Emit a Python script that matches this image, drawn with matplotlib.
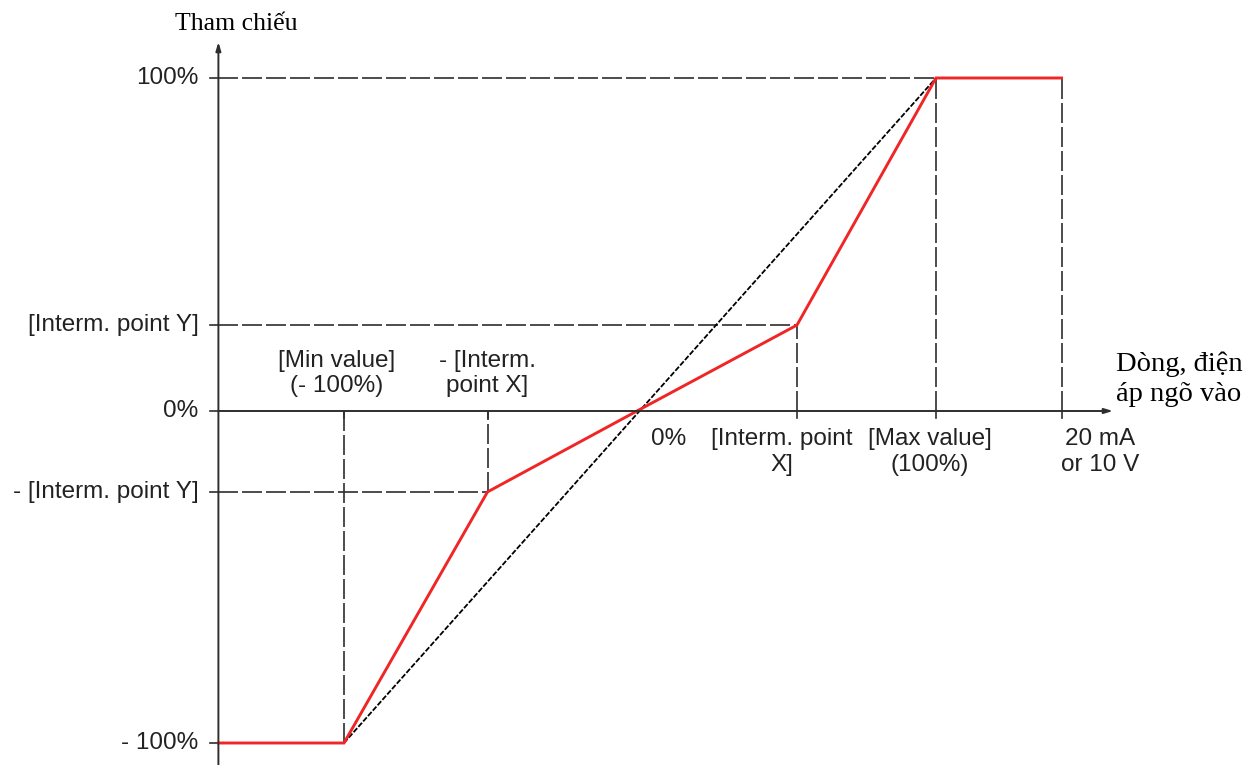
import matplotlib
matplotlib.use("Agg")
import matplotlib.pyplot as plt

# --- data (percent units) ---
x_min_val = -98.0        # [Min value] (-100%)
x_neg_interm = -50.0     # -[Interm. point X]
x_interm = 53.5          # [Interm. point X]
x_max_val = 100.0        # [Max value] (100%)
x_end = 142.0            # 20 mA or 10 V
x_axis_start = -140.0

y_top = 100.0
y_interm = 25.8
y_neg_interm = -24.3
y_bottom = -99.7

red_x = [x_axis_start, x_min_val, x_neg_interm, 0.0, x_interm, x_max_val, x_end]
red_y = [y_bottom, y_bottom, y_neg_interm, 0.0, y_interm, y_top, y_top]

ref_x = [x_min_val, x_max_val]
ref_y = [y_bottom, y_top]

y_tick_labels = ["100%", "[Interm. point Y]", "0%", "- [Interm. point Y]", "- 100%"]
y_tick_vals = [y_top, y_interm, 0.0, y_neg_interm, y_bottom]

x_labels_below = ["0%", "[Interm. point\nX]", "[Max value]\n(100%)", "20 mA\nor 10 V"]
x_labels_below_pos = [10.5, 48.5, 98.0, 155.0]
x_labels_above = ["[Min value]\n(- 100%)", "- [Interm.\npoint X]"]
x_labels_above_pos = [-100.5, -50.0]

# --- figure ---
W, H, DPI = 1256, 765, 100
fig = plt.figure(figsize=(W / DPI, H / DPI), dpi=DPI)
ax = fig.add_axes([0, 0, 1, 1])
ax.set_axis_off()
sx = 2.99  # px per percent in x
sy = 3.33  # px per percent in y
x0, y0 = 637, 411
ax.set_xlim(-x0 / sx, (W - x0) / sx)
ax.set_ylim(-(H - y0) / sy, y0 / sy)

grey = "#2e2e2e"
dash = dict(color=grey, lw=1.2, linestyle=(0, (12, 2.4)))

# dashed guide lines
ax.plot([x_axis_start, x_max_val], [y_top, y_top], **dash)
ax.plot([x_max_val, x_max_val], [0, y_top], **dash)
ax.plot([x_end, x_end], [0, y_top], **dash)
ax.plot([x_axis_start, x_interm], [y_interm, y_interm], **dash)
ax.plot([x_interm, x_interm], [0, y_interm], **dash)
ax.plot([x_axis_start, x_neg_interm], [y_neg_interm, y_neg_interm], **dash)
ax.plot([x_neg_interm, x_neg_interm], [y_neg_interm, 0], **dash)
ax.plot([x_min_val, x_min_val], [y_bottom, 0], **dash)

# axes with arrows
y_axis_bottom = -(H - y0) / sy
ax.annotate("", xy=(x_axis_start, (y0 - 42) / sy), xytext=(x_axis_start, y_axis_bottom),
            arrowprops=dict(arrowstyle="-|>,head_length=0.5,head_width=0.15", color=grey, lw=1.4,
                            shrinkA=0, shrinkB=0))
ax.annotate("", xy=((1113 - x0) / sx, 0), xytext=(x_axis_start, 0),
            arrowprops=dict(arrowstyle="-|>,head_length=0.5,head_width=0.15", color=grey, lw=1.4,
                            shrinkA=0, shrinkB=0))

# ticks
for yv in y_tick_vals:
    ax.plot([x_axis_start - 8 / sx, x_axis_start], [yv, yv], color=grey, lw=1.2)
for xv in [x_min_val, x_neg_interm, x_interm, x_max_val, x_end]:
    ax.plot([xv, xv], [0, -7 / sy], color=grey, lw=1.2)

# reference diagonal
ax.plot(ref_x, ref_y, color="black", lw=1.3, linestyle=(0, (3, 1)))
# red curve
ax.plot(red_x, red_y, color="#f02525", lw=2.1, solid_joinstyle="miter")

# labels
sans = ["Liberation Sans", "DejaVu Sans"]
serif = ["Liberation Serif", "DejaVu Serif"]
fs = 17.5
for lab, yv in zip(y_tick_labels, y_tick_vals):
    ax.text(x_axis_start - 20 / sx, yv, lab, ha="right", va="center", fontsize=fs,
            family=sans, color="#222222")
for lab, xv in zip(x_labels_below, x_labels_below_pos):
    ax.text(xv, -17 / sy, lab, ha="center", va="top", fontsize=fs, family=sans,
            color="#222222", linespacing=1.25)
for lab, xv in zip(x_labels_above, x_labels_above_pos):
    ax.text(xv, 14 / sy, lab, ha="center", va="bottom", fontsize=fs, family=sans,
            color="#222222", linespacing=1.2)

ax.text((175 - x0) / sx, (y0 - 24) / sy, "Tham chiếu", ha="left", va="center",
        fontsize=18.5, family=serif, color="black")
ax.text((1116 - x0) / sx, (y0 - 379) / sy,
        "Dòng, điện\náp ngõ vào", ha="left", va="center", fontsize=20.5, family=serif,
        color="black", linespacing=1.25)

fig.savefig("out.png", dpi=DPI)
